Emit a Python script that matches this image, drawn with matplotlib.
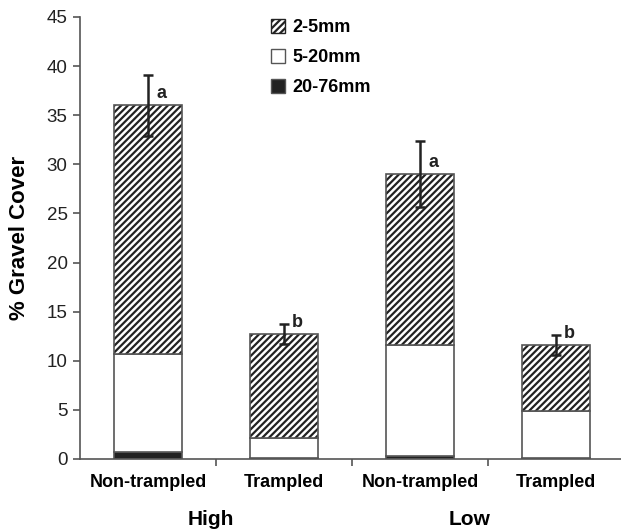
import matplotlib
matplotlib.use("Agg")
import matplotlib.pyplot as plt
import numpy as np

# data
categories = ["Non-trampled", "Trampled", "Non-trampled", "Trampled"]
groups = ["High", "Low"]
coarse_20_76 = [0.75, 0.12, 0.3, 0.15]
mid_5_20_top = [10.7, 2.1, 11.6, 4.9]   # cumulative top of 5-20mm segment
totals = [36.0, 12.7, 29.0, 11.6]
errors = [3.1, 1.0, 3.35, 1.0]
letters = ["a", "b", "a", "b"]

mid_5_20 = [m - c for m, c in zip(mid_5_20_top, coarse_20_76)]
fine_2_5 = [t - m for t, m in zip(totals, mid_5_20_top)]

plt.rcParams["font.family"] = ["Liberation Sans", "DejaVu Sans"]
plt.rcParams["hatch.linewidth"] = 1.6

fig = plt.figure(figsize=(6.21, 5.31), dpi=100)
ax = fig.add_axes([0.129, 0.1356, 0.876, 0.8325])

x = np.arange(len(categories))
w = 0.5
edge = "#555555"
dark = "#222222"

ax.bar(x, coarse_20_76, w, color=dark, edgecolor=edge, linewidth=1.2, label="20-76mm")
ax.bar(x, mid_5_20, w, bottom=coarse_20_76, color="white", edgecolor=edge,
       linewidth=1.2, label="5-20mm")
ax.bar(x, fine_2_5, w, bottom=mid_5_20_top, color="white", edgecolor=dark,
       hatch="/////", linewidth=0, label="2-5mm")
# outline over the hatched segment
ax.bar(x, fine_2_5, w, bottom=mid_5_20_top, fill=False, edgecolor=edge, linewidth=1.2)

ax.errorbar(x, totals, yerr=errors, fmt="none", ecolor=dark, elinewidth=1.8,
            capsize=3.3, capthick=1.8)
for xi, t, l in zip(x, totals, letters):
    ax.text(xi + 0.06, t + 1.2, l, fontsize=13, fontweight="bold",
            ha="left", va="center", color=dark)

ax.set_xlim(-0.5, len(x) - 0.5)
ax.set_ylim(0, 45)
ax.set_yticks(np.arange(0, 46, 5))
ax.set_xticks(x)
ax.set_xticklabels(categories, fontsize=13, fontweight="bold")
ax.set_xticks(np.arange(0.5, len(x) - 0.5, 1), minor=True)
ax.tick_params(axis="x", which="major", length=0, pad=11)
ax.tick_params(axis="x", which="minor", length=5, color=edge, width=1.2)
ax.tick_params(axis="y", labelsize=13.5, length=5, color=edge, width=1.2, pad=4)
for lab in ax.get_yticklabels():
    lab.set_color(dark)

for s in ["top", "right"]:
    ax.spines[s].set_visible(False)
for s in ["left", "bottom"]:
    ax.spines[s].set_color(edge)
    ax.spines[s].set_linewidth(1.2)

ax.set_ylabel("% Gravel Cover", fontsize=16, fontweight="bold", labelpad=12)

group_x = [0.46, 2.36]
for gx, g in zip(group_x, groups):
    ax.text(gx, -0.136, g, transform=ax.get_xaxis_transform(),
            ha="center", va="center", fontsize=15, fontweight="bold")

handles, labels = ax.get_legend_handles_labels()
order = [2, 1, 0]
leg = ax.legend([handles[i] for i in order], [labels[i] for i in order],
                loc="upper left", bbox_to_anchor=(0.335, 1.015), frameon=False,
                prop={"weight": "bold", "size": 13}, handlelength=0.75,
                handleheight=0.75, handletextpad=0.4, labelspacing=0.72,
                borderaxespad=0.1)
for h in leg.legend_handles:
    h.set_edgecolor(edge)
    h.set_linewidth(1.0)
leg.legend_handles[0].set_edgecolor(dark)

fig.savefig("out.png", dpi=100)
